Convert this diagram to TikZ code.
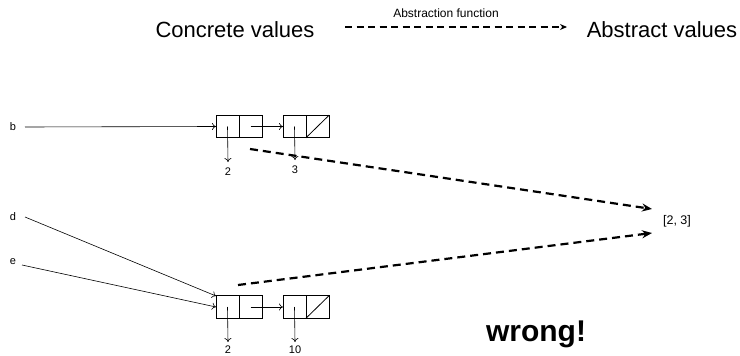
\documentclass[tikz,border=0pt]{standalone}
\usepackage{fontspec}
\setmainfont{Liberation Sans}
\usetikzlibrary{arrows.meta}
\begin{document}
\begin{tikzpicture}[x=1pt,y=-1pt,
 cell/.style={draw, minimum width=23pt, minimum height=22.5pt, inner sep=0pt, outer sep=0pt, line width=0.8pt},
 ptr/.style={-{To[length=4pt,width=7pt]}, line width=0.6pt},
 absarrow/.style={line width=2.2pt, dash pattern=on 8pt off 5pt, -{Stealth[length=10pt,width=8pt]}},
 lbl/.style={font=\fontsize{11}{13}\selectfont, inner sep=0pt},
 big/.style={font=\fontsize{22}{25}\selectfont, inner sep=0pt}]
\useasboundingbox (0,0) rectangle (740,356);
% header
\node[big] (conc) at (235,30) {Concrete values};
\node[big] (absv) at (662,30) {Abstract values};
\coordinate (hs) at (345,27);
\coordinate (he) at (567,27);
\draw[line width=1.8pt, dash pattern=on 7pt off 4.5pt, -{Stealth[length=7pt,width=6pt]}] (hs) -- (he);
\node[font=\fontsize{12}{14}\selectfont, inner sep=0pt] (afn) at (446,13) {Abstraction function};
% top list
\node[cell] (a1) at (227.5,126.5) {};
\node[cell] (a2) at (250.5,126.5) {};
\node[cell] (a3) at (294.5,126.5) {};
\node[cell] (a4) at (317.5,126.5) {};
\draw[line width=0.8pt] (a4.south west) -- (a4.north east);
\node[lbl] (b) at (13,127) {b};
\coordinate (bs) at (25,127);
\draw[ptr] (bs) -- (a1.west);
\draw[ptr] (a2.center) -- (a3.west);
\node[lbl] (v2a) at (228,172) {2};
\node[lbl] (v3a) at (295,170) {3};
\draw[ptr] (a1.center) -- (v2a.north |- 0,162);
\draw[ptr] (a3.center) -- (v3a.north |- 0,160);
% bottom list
\node[cell] (c1) at (227.5,307) {};
\node[cell] (c2) at (250.5,307) {};
\node[cell] (c3) at (294.5,307) {};
\node[cell] (c4) at (317.5,307) {};
\draw[line width=0.8pt] (c4.south west) -- (c4.north east);
\node[lbl] (d) at (13,217) {d};
\node[lbl] (e) at (13,262) {e};
\coordinate (ds) at (25,217);
\coordinate (es) at (22,265);
\coordinate (dt) at (216,296);
\coordinate (et) at (216,307);
\draw[ptr] (ds) -- (dt);
\draw[ptr] (es) -- (et);
\draw[ptr] (c2.center) -- (c3.west);
\node[lbl] (v2b) at (228,350) {2};
\node[lbl] (v10b) at (295,350) {10};
\draw[ptr] (c1.center) -- (v2b.north |- 0,342);
\draw[ptr] (c3.center) -- (v10b.north |- 0,342);
% abstract value
\node[font=\fontsize{12.5}{14}\selectfont, inner sep=0pt] (lst) at (677,221) {[2, 3]};
\coordinate (ts) at (250,149);
\coordinate (bs2) at (238,285);
\coordinate (te) at (652,209);
\coordinate (be) at (652,233);
\draw[absarrow] (ts) -- (te);
\draw[absarrow] (bs2) -- (be);
\node[font=\bfseries\fontsize{30}{33}\selectfont, inner sep=0pt] (wrong) at (536,334) {wrong!};
\end{tikzpicture}
\end{document}
